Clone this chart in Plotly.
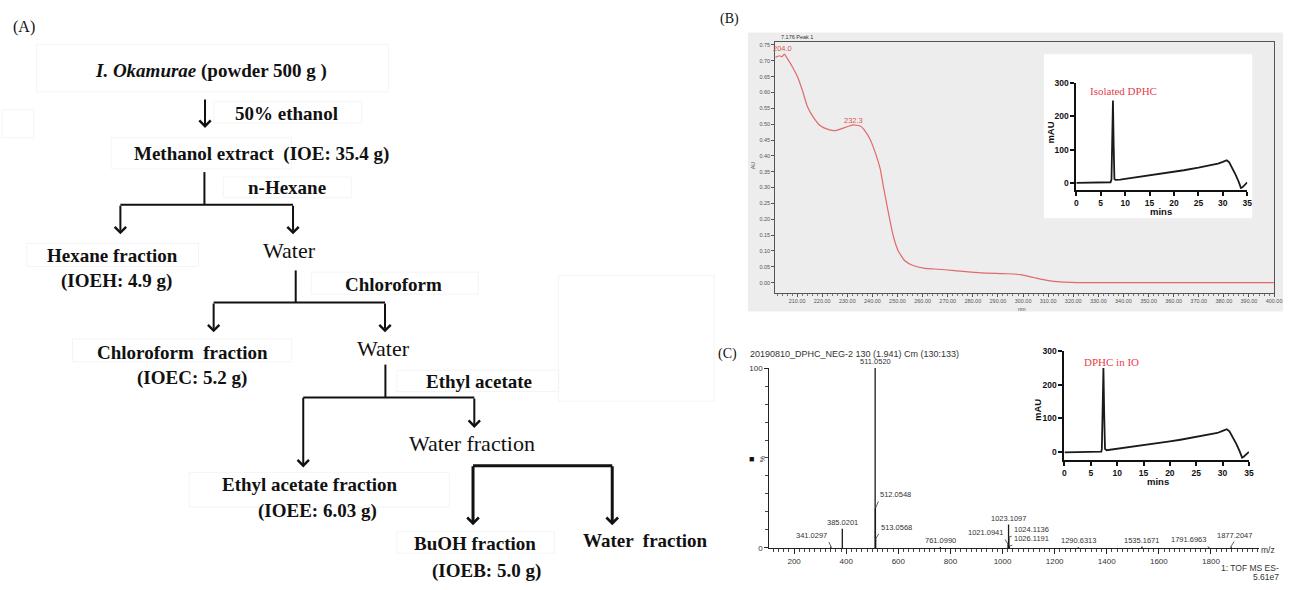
import plotly.graph_objects as go

W, H = 1291, 590

# ---------------- data ----------------
# Panel B: UV spectrum (nm, AU)
uv_nm = [201.3, 202.9, 204.0, 204.9, 206.2, 208.2, 210.2, 212.1, 214.1, 216.7,
         219.4, 222.6, 225.3, 229.2, 232.3, 235.2, 237.1, 239.1, 241.1, 243.1,
         244.4, 246.4, 248.3, 250.3, 252.9, 256.2, 260.9, 264.8, 272.7, 283.3,
         293.8, 299.1, 304.3, 309.6, 314.9, 321.5, 340.0, 360.0, 380.0, 400.0]
uv_au = [0.711, 0.716, 0.713, 0.721, 0.706, 0.680, 0.649, 0.607, 0.556, 0.519,
         0.494, 0.483, 0.480, 0.490, 0.498, 0.494, 0.478, 0.452, 0.411, 0.359,
         0.302, 0.219, 0.147, 0.100, 0.069, 0.054, 0.045, 0.043, 0.038, 0.031,
         0.028, 0.025, 0.016, 0.007, 0.002, 0.000, 0.000, 0.000, 0.000, 0.000]
uv_peak_nm = [204.0, 232.3]
uv_peak_au = [0.739, 0.512]
uv_x_ticks = [210 + 10 * i for i in range(20)]
uv_y_ticks = [round(0.05 * i, 2) for i in range(16)]

# Panel B inset: HPLC of isolated DPHC (min, mAU)
hplc_b_t = [0, 2, 4, 5, 6, 7, 7.2, 7.35, 7.5, 7.65, 7.8, 8.0, 8.5, 9, 10, 12, 15, 18, 20, 22,
            25, 27, 28, 29, 30, 30.8, 31.3, 32, 32.6, 33.2, 33.7, 34.0, 34.5, 35]
hplc_b_v = [0, 0, 1, 1, 1, 2, 10, 120, 247, 110, 12, 9, 9, 10, 12, 16, 22, 28, 33, 38,
            46, 51, 55, 58, 63, 68, 62, 44, 25, 5, -15, -13, -6, 2]

# Panel C inset: HPLC of DPHC in IO (min, mAU)
hplc_c_t = [0, 2, 4, 5, 6, 7, 7.1, 7.25, 7.4, 7.55, 7.7, 8.0, 8.5, 9, 10, 12, 15, 18, 20, 22,
            25, 27, 28, 29, 30, 30.8, 31.3, 32, 32.6, 33.2, 33.7, 34.0, 34.5, 35]
hplc_c_v = [0, 0, 1, 1, 1, 2, 10, 120, 249, 110, 10, 6, 7, 8, 10, 15, 21, 28, 32, 37,
            45, 50, 54, 57, 63, 68, 62, 44, 25, 4, -16, -13, -6, 1]

# Panel C: mass spectrum (m/z, relative intensity %)
ms_mz = [341.0297, 385.0201, 511.0520, 512.0548, 513.0568, 761.0990, 1021.0941,
         1023.1097, 1024.1136, 1026.1191, 1290.6313, 1535.1671, 1791.6963, 1877.2047]
ms_int = [1.0, 10.7, 100, 22, 5, 0.5, 2, 13, 6, 1, 0.4, 0.8, 0.4, 0.8]
ms_x_ticks = [200, 400, 600, 800, 1000, 1200, 1400, 1600, 1800]

# ---------------- helpers ----------------
def X(px):
    return px / W


def Y(py):
    return 1 - py / H


SERIF = "Times New Roman, Liberation Serif, serif"
SANS = "Arial, Liberation Sans, sans-serif"

fig = go.Figure()

fig.add_trace(go.Scatter(x=uv_nm, y=uv_au, mode="lines",
                         line=dict(color="#e06a6a", width=1.2, shape="spline", smoothing=0.5),
                         xaxis="x", yaxis="y", showlegend=False, hoverinfo="skip"))
fig.add_trace(go.Scatter(x=hplc_b_t, y=hplc_b_v, mode="lines",
                         line=dict(color="#1a1a1a", width=1.8),
                         xaxis="x2", yaxis="y2", showlegend=False, hoverinfo="skip"))
ms_x, ms_y = [], []
for m, h in zip(ms_mz, ms_int):
    ms_x += [m, m, None]
    ms_y += [0, h, None]
fig.add_trace(go.Scatter(x=ms_x, y=ms_y, mode="lines",
                         line=dict(color="#1a1a1a", width=1.3),
                         xaxis="x3", yaxis="y3", showlegend=False, hoverinfo="skip"))
fig.add_trace(go.Scatter(x=hplc_c_t, y=hplc_c_v, mode="lines",
                         line=dict(color="#1a1a1a", width=1.8),
                         xaxis="x4", yaxis="y4", showlegend=False, hoverinfo="skip"))

uv_tick_font = dict(family=SANS, size=5.5, color="#555")
inset_font = dict(family=SANS, size=8.5, color="#111", weight="bold")
ms_font = dict(family=SANS, size=8, color="#333")

fig.update_layout(
    width=W, height=H, autosize=False,
    margin=dict(l=0, r=0, t=0, b=0, pad=0),
    paper_bgcolor="white", plot_bgcolor="rgba(0,0,0,0)",
    showlegend=False,
    xaxis=dict(domain=[X(779.3), X(1282)], range=[201.3, 400], anchor="y",
               showline=True, linecolor="#555", linewidth=1, mirror=True,
               ticks="outside", ticklen=3, tickcolor="#555",
               tickvals=uv_x_ticks, ticktext=["%.2f" % v for v in uv_x_ticks],
               tickfont=uv_tick_font, showgrid=False, zeroline=False,
               minor=dict(dtick=2, ticks="outside", ticklen=2, tickcolor="#777")),
    yaxis=dict(domain=[Y(292.7), Y(37.3)], range=[-0.032, 0.7605], anchor="x",
               showline=True, linecolor="#555", linewidth=1, mirror=True,
               ticks="outside", ticklen=3, tickcolor="#555",
               tickvals=uv_y_ticks, ticktext=["%.2f" % v for v in uv_y_ticks],
               tickfont=uv_tick_font, showgrid=False, zeroline=False),
    xaxis2=dict(domain=[X(1082.7), X(1255)], range=[0, 35], anchor="y2",
                showline=True, linecolor="#111", linewidth=2,
                ticks="outside", ticklen=4, tickwidth=2, tickcolor="#111",
                tickvals=[0, 5, 10, 15, 20, 25, 30, 35], tickfont=inset_font,
                showgrid=False, zeroline=False),
    yaxis2=dict(domain=[Y(187.7), Y(79.3)], range=[-19.8, 300], anchor="x2",
                showline=True, linecolor="#111", linewidth=2,
                ticks="outside", ticklen=4, tickwidth=2, tickcolor="#111",
                tickvals=[0, 100, 200, 300], tickfont=inset_font,
                showgrid=False, zeroline=False),
    xaxis3=dict(domain=[X(773.3), X(1266.7)], range=[104.8, 1984], anchor="y3",
                showline=True, linecolor="#222", linewidth=1,
                ticks="outside", ticklen=5, tickcolor="#222",
                tickvals=ms_x_ticks, tickfont=ms_font,
                showgrid=False, zeroline=False,
                minor=dict(dtick=20, ticks="outside", ticklen=3, tickcolor="#444")),
    yaxis3=dict(domain=[Y(552.3), Y(369.3)], range=[0, 100], anchor="x3",
                showline=True, linecolor="#222", linewidth=1,
                ticks="outside", ticklen=4, tickcolor="#222",
                tickvals=[0, 100], tickfont=ms_font,
                showgrid=False, zeroline=False,
                minor=dict(tickvals=list(range(10, 100, 10)), ticks="outside",
                           ticklen=3, tickcolor="#444")),
    xaxis4=dict(domain=[X(1070.7), X(1256.7)], range=[0, 35], anchor="y4",
                showline=True, linecolor="#111", linewidth=2,
                ticks="outside", ticklen=4, tickwidth=2, tickcolor="#111",
                tickvals=[0, 5, 10, 15, 20, 25, 30, 35], tickfont=inset_font,
                showgrid=False, zeroline=False),
    yaxis4=dict(domain=[Y(462.7), Y(351.7)], range=[-22.4, 300], anchor="x4",
                showline=True, linecolor="#111", linewidth=2,
                ticks="outside", ticklen=4, tickwidth=2, tickcolor="#111",
                tickvals=[0, 100, 200, 300], tickfont=inset_font,
                showgrid=False, zeroline=False),
)

shapes = []


def rect(x0, y0, x1, y1, fill=None, line="#ececec", lw=1, layer="below"):
    shapes.append(dict(type="rect", xref="paper", yref="paper",
                       x0=X(x0), x1=X(x1), y0=Y(y1), y1=Y(y0),
                       fillcolor=fill if fill else "rgba(0,0,0,0)",
                       line=dict(color=line, width=lw), layer=layer))


def seg(x0, y0, x1, y1, lw=2):
    shapes.append(dict(type="line", xref="paper", yref="paper",
                       x0=X(x0), x1=X(x1), y0=Y(y0), y1=Y(y1),
                       line=dict(color="#111", width=lw), layer="above"))


# Panel B backgrounds
rect(751.7, 28, 1291, 311.7, fill="#ededed", line="rgba(0,0,0,0)", lw=0)
rect(1050, 50, 1260, 217, fill="white", line="rgba(0,0,0,0)", lw=0)

# Panel A faint boxes
for b in [(34.8, 40, 389.5, 88.3), (213.6, 98.3, 362.6, 120), (0, 106.7, 32, 135),
          (110, 135, 291.7, 166.7), (223, 175, 352, 196), (25, 242.7, 198, 266),
          (311.7, 271.7, 480, 294), (71, 339.6, 292, 363), (398, 371.5, 561, 393.3),
          (188.6, 475.4, 450.8, 510.7), (398, 535.8, 556.6, 557.6), (561, 275, 717.6, 403)]:
    rect(*b, line="#f4f4f4", lw=1)

# Panel A connector lines
seg(204, 170, 204, 203.3)
seg(119.3, 203.3, 293.3, 203.3)
seg(296, 270, 296, 302.7)
seg(213.3, 302.7, 386, 302.7)
seg(386.4, 365.8, 386.4, 399.3)
seg(303.6, 399.3, 476, 399.3)
seg(474.7, 468.7, 615, 468.7, lw=3)

fig.update_layout(shapes=shapes)

anns = []


def arrow(x, y0, y1, lw=2, size=1.1):
    anns.append(dict(xref="paper", yref="paper", x=X(x), y=Y(y1), ax=0, ay=-(y1 - y0),
                     axref="pixel", ayref="pixel", text="", showarrow=True,
                     arrowhead=4, arrowsize=size, arrowwidth=lw, arrowcolor="#111"))


arrow(204.6, 95, 125)
arrow(119.3, 203.3, 233.3)
arrow(293.3, 203.3, 233.3)
arrow(213.3, 302.7, 333)
arrow(386, 302.7, 333)
arrow(303.6, 399.3, 470.4)
arrow(476, 399.3, 430.2)
arrow(474.7, 468.7, 529.1, lw=3, size=0.75)
arrow(615, 468.7, 529.1, lw=3, size=0.75)


def txt(text, px, py, size, family=SERIF, color="#111", weight="normal",
        xanchor="center", yanchor="middle", angle=0):
    anns.append(dict(xref="paper", yref="paper", x=X(px), y=Y(py), text=text,
                     showarrow=False, xanchor=xanchor, yanchor=yanchor, textangle=angle,
                     font=dict(family=family, size=size, color=color, weight=weight)))


# Panel A texts
txt("(A)", 22, 22, 16)
flow_bold = [
    ("<i>I. Okamurae</i> (powder 500 g )", 211, 67),
    ("50% ethanol", 287, 110),
    ("Methanol extract  (IOE: 35.4 g)", 262, 152),
    ("n-Hexane", 287, 186),
    ("Hexane fraction", 111, 255),
    ("(IOEH: 4.9 g)", 115, 281),
    ("Chloroform", 395, 284),
    ("Chloroform  fraction", 182, 353),
    ("(IOEC: 5.2 g)", 191, 379),
    ("Ethyl acetate", 481, 383),
    ("Ethyl acetate fraction", 310, 488),
    ("(IOEE: 6.03 g)", 318, 515),
    ("BuOH fraction", 477, 548),
    ("(IOEB: 5.0 g)", 488, 576),
    ("Water  fraction", 649, 545),
]
for t, x, y in flow_bold:
    txt(t, x, y, 19, weight="bold")
for t, x, y in [("Water", 290, 250), ("Water", 384, 349), ("Water fraction", 474, 446)]:
    txt(t, x, y, 22)

# Panel labels
txt("(B)", 733, 14, 14)
txt("(C)", 731, 355, 14)

# Panel B texts
txt("7.176 Peak 1", 783, 33, 5.5, family=SANS, color="#333", xanchor="left")
txt("AU", 757, 163, 5.5, family=SANS, color="#555", angle=-90)
txt("nm", 1028, 309, 5.5, family=SANS, color="#555")
for nm, au in zip(uv_peak_nm, uv_peak_au):
    anns.append(dict(xref="x", yref="y", x=nm, y=au, text="%.1f" % nm, showarrow=False,
                     font=dict(family=SANS, size=7.5, color="#d9534f")))
txt("Isolated DPHC", 1130, 87, 11, color="#e8404a")
txt("mins", 1168, 210, 9.5, family=SANS, weight="bold")
txt("mAU", 1057, 130, 9.5, family=SANS, weight="bold", angle=-90)

# Panel C texts
txt("20190810_DPHC_NEG-2 130 (1.941) Cm (130:133)", 752, 355, 9, family=SANS,
    color="#333", xanchor="left")
txt("■", 755, 462, 9, family=SANS)
txt("%", 766, 462, 7, family=SANS, color="#333", angle=-90)
txt("m/z", 1276, 554, 8.5, family=SANS, color="#333")
txt("1: TOF MS ES-", 1289, 573, 8.5, family=SANS, color="#333", xanchor="right")
txt("5.61e7", 1289, 582, 8.5, family=SANS, color="#333", xanchor="right")
txt("DPHC in IO", 1118, 363, 11, color="#e8404a")
txt("mins", 1165, 485, 9.5, family=SANS, weight="bold")
txt("mAU", 1043, 412, 9.5, family=SANS, weight="bold", angle=-90)

# mass peak labels: (ax, ay, xanchor) offsets in pixels; others sit right above peak
ms_label_style = {
    341.0297: (-2, -4, "right"),
    512.0548: (3, -7, "left"),
    513.0568: (3, -5, "left"),
    1021.0941: (-3, -5, "right"),
    1024.1136: (3, -1, "left"),
    1026.1191: (3, -1, "left"),
    1791.6963: (-1, -1, "right"),
    1877.2047: (3, -5, "center"),
}
for m, h in zip(ms_mz, ms_int):
    label = "%.4f" % m
    if m in ms_label_style:
        ax, ay, xa = ms_label_style[m]
        anns.append(dict(xref="x3", yref="y3", x=m, y=h, text=label, showarrow=True,
                         arrowhead=0, arrowwidth=0.8, arrowcolor="#333", ax=ax, ay=ay,
                         xanchor=xa, yanchor="bottom",
                         font=dict(family=SANS, size=7.5, color="#333")))
    else:
        anns.append(dict(xref="x3", yref="y3", x=m, y=h, text=label, showarrow=False,
                         xanchor="center", yanchor="bottom", yshift=0,
                         font=dict(family=SANS, size=7.5, color="#333")))

fig.update_layout(annotations=anns)

fig.write_html("out.html")
